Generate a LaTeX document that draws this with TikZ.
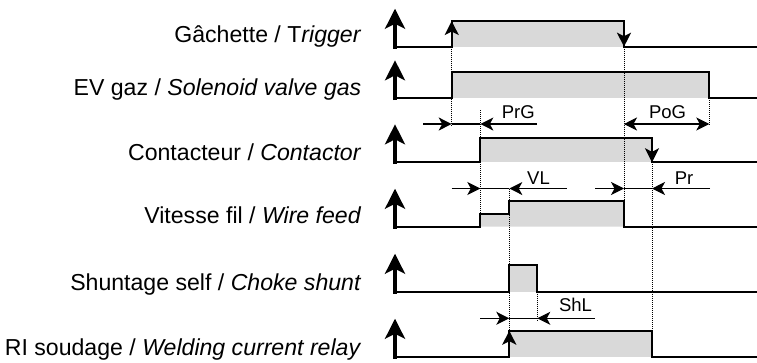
\documentclass[tikz,border=0pt]{standalone}
\usepackage{fontspec}
\setmainfont{Liberation Sans}
\usetikzlibrary{arrows.meta}
\begin{document}
\begin{tikzpicture}[x=1pt,y=-1pt,
  wave/.style={line width=2pt, line join=miter, line cap=butt},
  axisarr/.style={line width=3.6pt, -{Stealth[length=20pt,width=20pt,inset=5pt]}},
  tarr/.style={line width=2pt, -{Stealth[length=14pt,width=14pt,inset=3.5pt]}},
  dimline/.style={line width=1.1pt},
  dimarr/.style={line width=1.1pt, -{Stealth[length=13pt,width=13pt,inset=3.5pt]}},
  dotline/.style={line width=0.9pt, dash pattern=on 1pt off 1pt},
  fillc/.style={fill=black!15},
  lbl/.style={anchor=base east, inner sep=0pt, font=\fontsize{23.1}{27}\selectfont},
  dlbl/.style={anchor=base, inner sep=0pt, font=\fontsize{18.5}{22}\selectfont}
]
\useasboundingbox (0,0) rectangle (757,362);

% grey fills
\fill[fillc] (451.7,21) rectangle (624,46.7);
\fill[fillc] (451.7,71.7) rectangle (709.3,98.3);
\fill[fillc] (480.3,137.5) rectangle (652,162.3);
\fill[fillc] (480.3,226.7) -- (480.3,214) -- (509.3,214) -- (509.3,200.7) -- (624,200.7) -- (624,226.7) -- cycle;
\fill[fillc] (509.3,265) rectangle (537.3,291.7);
\fill[fillc] (509.3,330.7) rectangle (652,356.7);

% dotted guide lines
\draw[dotline] (451.7,46.7) -- (451.7,125);
\draw[dotline] (480.3,110) -- (480.3,214);
\draw[dotline] (509.3,188.5) -- (509.3,330.7);
\draw[dotline] (537.3,291.7) -- (537.3,320);
\draw[dotline] (624,46.7) -- (624,200.7);
\draw[dotline] (652,162.3) -- (652,330.7);
\draw[dotline] (709.3,98.3) -- (709.3,125);

% axes
\foreach \b in {46.7,98.3,162.3,226.7,291.7,356.7}
  \draw[axisarr] (395,\b+1.8) -- (395,\b-38);

% waveforms
\draw[wave] (394,46.7) -- (451.7,46.7) -- (451.7,21) -- (624,21) -- (624,46.7) -- (757,46.7);
\draw[wave] (394,98.3) -- (451.7,98.3) -- (451.7,71.7) -- (709.3,71.7) -- (709.3,98.3) -- (757,98.3);
\draw[wave] (394,162.3) -- (480.3,162.3) -- (480.3,137.5) -- (652,137.5) -- (652,162.3) -- (757,162.3);
\draw[wave] (394,226.7) -- (480.3,226.7) -- (480.3,214) -- (509.3,214) -- (509.3,200.7) -- (624,200.7) -- (624,226.7) -- (757,226.7);
\draw[wave] (394,291.7) -- (509.3,291.7) -- (509.3,265) -- (537.3,265) -- (537.3,291.7) -- (757,291.7);
\draw[wave] (394,356.7) -- (509.3,356.7) -- (509.3,330.7) -- (652,330.7) -- (652,356.7) -- (757,356.7);

% transition arrows
\draw[tarr] (451.7,40) -- (451.7,21);
\draw[tarr] (624,28) -- (624,46.7);
\draw[tarr] (652,144) -- (652,162.3);
\draw[tarr] (509.3,350) -- (509.3,330.7);

% dimension: PrG
\draw[dimline] (451.7,124) -- (480.3,124);
\draw[dimarr] (423,124) -- (451.7,124);
\draw[dimarr] (537,124) -- (480.3,124);
% PoG
\draw[dimarr, {Stealth[length=13pt,width=13pt,inset=3.5pt]}-{Stealth[length=13pt,width=13pt,inset=3.5pt]}] (624,124) -- (709.3,124);
% VL
\draw[dimline] (480.3,188.5) -- (509.3,188.5);
\draw[dimarr] (451.7,188.5) -- (480.3,188.5);
\draw[dimarr] (566.7,188.5) -- (509.3,188.5);
% Pr
\draw[dimline] (624,188.5) -- (652,188.5);
\draw[dimarr] (595,188.5) -- (624,188.5);
\draw[dimarr] (710,188.5) -- (652,188.5);
% ShL
\draw[dimline] (509.3,318.3) -- (537.3,318.3);
\draw[dimarr] (480,318.3) -- (509.3,318.3);
\draw[dimarr] (595,318.3) -- (537.3,318.3);

% dimension labels
\node[dlbl] (prg) at (518.3,118.3) {PrG};
\node[dlbl] (pog) at (667.5,118.3) {PoG};
\node[dlbl] (vl) at (538.5,184) {VL};
\node[dlbl] (pr) at (684,184) {Pr};
\node[dlbl] (shl) at (575.5,311.7) {ShL};

% signal labels
\node[lbl] (l1) at (361.5,42.7) {Gâchette / T\textit{rigger}};
\node[lbl] (l2) at (361.5,95) {EV gaz / \textit{Solenoid valve gas}};
\node[lbl] (l3) at (361.5,160) {Contacteur / \textit{Contactor}};
\node[lbl] (l4) at (361.5,223.3) {Vitesse fil / \textit{Wire feed}};
\node[lbl] (l5) at (361.5,290) {Shuntage self / \textit{Choke shunt}};
\node[lbl] (l6) at (361.5,355.5) {RI soudage / \textit{Welding current relay}};
\end{tikzpicture}
\end{document}
